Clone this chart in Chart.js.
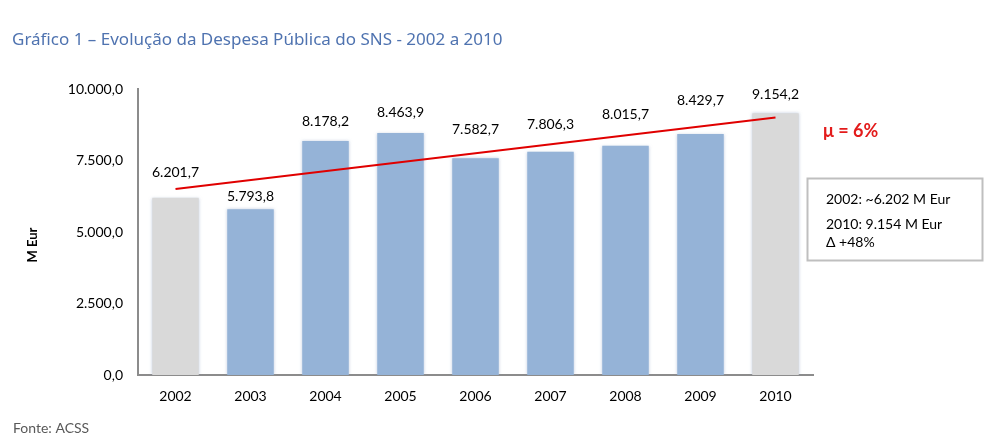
<!DOCTYPE html>
<html><head><meta charset="utf-8">
<script src="https://cdn.jsdelivr.net/npm/chart.js@4"></script>
<style>html,body{margin:0;padding:0;background:#fff;}#wrap{width:991px;height:444px;position:relative;}</style>
</head><body><div id="wrap"><canvas id="c" width="991" height="444"></canvas></div>
<script>
const years = ['2002','2003','2004','2005','2006','2007','2008','2009','2010'];
const despesa = [6201.7, 5793.8, 8178.2, 8463.9, 7582.7, 7806.3, 8015.7, 8429.7, 9154.2];
const valueLabels = ['6.201,7','5.793,8','8.178,2','8.463,9','7.582,7','7.806,3','8.015,7','8.429,7','9.154,2'];
const trend = [6500, null, null, null, null, null, null, null, 9000];
const yTicks = [0, 2500, 5000, 7500, 10000];
const yTickLabels = ['0,0','2.500,0','5.000,0','7.500,0','10.000,0'];
const titleText = 'Gráfico 1 – Evolução da Despesa Pública do SNS - 2002 a 2010';
const yAxisTitle = 'M Eur';
const growthText = 'μ = 6%';
const boxLines = ['2002: ~6.202 M Eur', '2010: 9.154 M Eur', 'Δ +48%'];
const sourceText = 'Fonte: ACSS';

const BLUE = '#95b3d7', GREY = '#d9d9d9';
const barColors = years.map((y,i) => (i===0 || i===years.length-1) ? GREY : BLUE);
const labelOffsets = [25, 13, 20, 20, 29, 27, 31, 33, 19];
const FONT = 'Lato, "Open Sans", sans-serif';

const annot = {
  id: 'annot',
  beforeDatasetDraw(chart, args) {
    if (args.index === 0) {
      chart.ctx.save();
      chart.ctx.shadowColor = 'rgba(150,170,200,0.55)';
      chart.ctx.shadowBlur = 3;
    }
  },
  afterDatasetDraw(chart, args) {
    if (args.index === 0) chart.ctx.restore();
  },
  afterDraw(chart) {
    const ctx = chart.ctx;
    const meta = chart.getDatasetMeta(0);
    ctx.save();
    ctx.fillStyle = '#4f73b0';
    ctx.font = '17px "Noto Sans", sans-serif';
    ctx.textAlign = 'left'; ctx.textBaseline = 'middle';
    ctx.fillText(titleText, 12, 40);
    ctx.fillStyle = '#000';
    ctx.font = '14px ' + FONT;
    ctx.textAlign = 'center';
    meta.data.forEach((bar, i) => {
      ctx.fillText(valueLabels[i], bar.x, bar.y - labelOffsets[i]);
    });
    ctx.save();
    ctx.translate(33, 245);
    ctx.rotate(-Math.PI/2);
    ctx.font = 'bold 13px ' + FONT;
    ctx.fillText(yAxisTitle, 0, 0);
    ctx.restore();
    ctx.fillStyle = '#e31b1b';
    ctx.font = 'bold 18px ' + FONT;
    ctx.textAlign = 'left';
    ctx.fillText(growthText, 823, 131);
    ctx.strokeStyle = '#bfbfbf'; ctx.lineWidth = 2;
    ctx.strokeRect(807.5, 178.5, 175, 82);
    ctx.fillStyle = '#000';
    ctx.font = '14px ' + FONT;
    ctx.fillText(boxLines[0], 826, 199);
    ctx.fillText(boxLines[1], 826, 224);
    ctx.fillText(boxLines[2], 826, 242);
    ctx.fillStyle = '#595959';
    ctx.font = '14px ' + FONT;
    ctx.fillText(sourceText, 13, 428);
    ctx.restore();
  }
};

new Chart(document.getElementById('c'), {
  data: {
    labels: years,
    datasets: [
      { type: 'bar', data: despesa, backgroundColor: barColors, borderWidth: 0,
        categoryPercentage: 1, barPercentage: 0.62, order: 2 },
      { type: 'line', data: trend, borderColor: '#e00000', borderWidth: 2,
        pointRadius: 0, spanGaps: true, fill: false, order: 1 }
    ]
  },
  options: {
    responsive: false, animation: false,
    layout: { padding: { left: 0, right: 178, top: 89, bottom: 0 } },
    plugins: { legend: { display: false }, tooltip: { enabled: false }, title: { display: false } },
    scales: {
      x: {
        grid: { display: false, drawTicks: false },
        border: { display: true, color: '#8c8c8c', width: 2 },
        ticks: { color: '#000', font: { family: FONT, size: 14 }, padding: 13 },
        afterFit(s) { s.height = 69; }
      },
      y: {
        min: 0, max: 10000,
        grid: { display: false, drawTicks: false },
        border: { display: true, color: '#8c8c8c', width: 2 },
        afterBuildTicks(s) { s.ticks = yTicks.map(v => ({ value: v })); },
        ticks: { color: '#000', font: { family: FONT, size: 14 }, padding: 15,
          callback(v) { const i = yTicks.indexOf(v); return i >= 0 ? yTickLabels[i] : ''; } },
        afterFit(s) { s.width = 138; }
      }
    }
  },
  plugins: [annot]
});
</script></body></html>
